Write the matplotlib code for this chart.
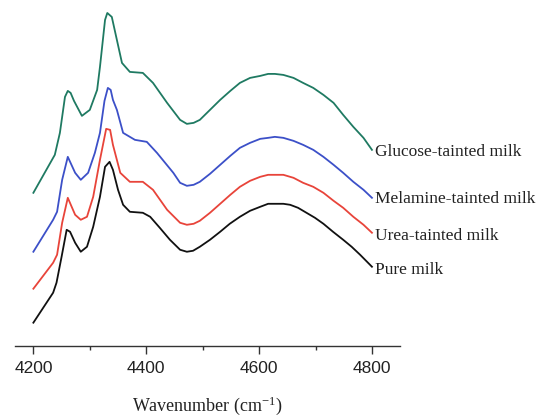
import matplotlib
matplotlib.use("Agg")
from matplotlib import pyplot as plt
from matplotlib.ticker import MultipleLocator

# NIR spectra of milk samples (wavenumber in cm^-1, arbitrary absorbance units, offset per sample)
pure_wn = [4200, 4235, 4241, 4250, 4259, 4265, 4274, 4284, 4295, 4306,
           4318, 4327, 4335, 4341, 4350, 4359, 4371, 4394, 4407, 4424,
           4442, 4460, 4472, 4483, 4495, 4513, 4531, 4548, 4566, 4584,
           4602, 4616, 4631, 4643, 4655, 4669, 4684, 4699, 4714, 4731,
           4749, 4764, 4779, 4800]
pure_abs = [0.23, 0.53, 0.63, 0.89, 1.16, 1.14, 1.03, 0.94, 0.99, 1.19,
            1.49, 1.79, 1.84, 1.76, 1.56, 1.41, 1.34, 1.33, 1.29, 1.18,
            1.06, 0.96, 0.94, 0.95, 0.99, 1.06, 1.14, 1.22, 1.29, 1.35,
            1.39, 1.42, 1.42, 1.42, 1.41, 1.38, 1.33, 1.28, 1.22, 1.14,
            1.06, 0.99, 0.91, 0.79]

urea_wn = [4200, 4235, 4242, 4251, 4261, 4274, 4284, 4295, 4306, 4318,
           4329, 4336, 4341, 4354, 4371, 4394, 4412, 4437, 4460, 4472,
           4484, 4495, 4513, 4531, 4549, 4566, 4584, 4602, 4616, 4628,
           4643, 4661, 4678, 4696, 4714, 4732, 4749, 4767, 4785, 4800]
urea_abs = [0.57, 0.83, 0.91, 1.23, 1.48, 1.31, 1.26, 1.29, 1.49, 1.86,
            2.17, 2.16, 2.01, 1.73, 1.64, 1.64, 1.56, 1.36, 1.23, 1.21,
            1.22, 1.25, 1.33, 1.42, 1.51, 1.59, 1.65, 1.69, 1.71, 1.71,
            1.71, 1.68, 1.63, 1.59, 1.53, 1.45, 1.38, 1.29, 1.21, 1.13]

melamine_wn = [4200, 4235, 4242, 4251, 4261, 4274, 4284, 4297, 4309, 4318,
               4326, 4332, 4337, 4341, 4348, 4359, 4380, 4401, 4419, 4448,
               4460, 4472, 4484, 4495, 4513, 4531, 4549, 4566, 4584, 4602,
               4616, 4628, 4643, 4661, 4678, 4696, 4714, 4732, 4749, 4767,
               4785, 4800]
melamine_abs = [0.94, 1.26, 1.34, 1.66, 1.89, 1.73, 1.66, 1.73, 1.93, 2.13,
                2.45, 2.58, 2.56, 2.46, 2.36, 2.13, 2.06, 2.04, 1.93, 1.73,
                1.63, 1.60, 1.61, 1.64, 1.72, 1.81, 1.90, 1.98, 2.03, 2.07,
                2.08, 2.09, 2.08, 2.05, 2.01, 1.96, 1.89, 1.81, 1.73, 1.64,
                1.56, 1.48]

glucose_wn = [4200, 4238, 4247, 4256, 4261, 4266, 4272, 4286, 4300, 4313,
              4318, 4327, 4331, 4339, 4348, 4357, 4371, 4394, 4412, 4437,
              4460, 4472, 4484, 4495, 4513, 4531, 4549, 4566, 4584, 4602,
              4616, 4628, 4643, 4661, 4678, 4696, 4714, 4732, 4749, 4767,
              4785, 4800]
glucose_abs = [1.53, 1.91, 2.13, 2.49, 2.55, 2.53, 2.45, 2.30, 2.36, 2.56,
               2.79, 3.26, 3.33, 3.29, 3.06, 2.83, 2.74, 2.73, 2.63, 2.43,
               2.26, 2.22, 2.23, 2.26, 2.36, 2.46, 2.55, 2.63, 2.68, 2.70,
               2.72, 2.72, 2.71, 2.68, 2.63, 2.58, 2.51, 2.43, 2.31, 2.19,
               2.08, 1.96]

labels = ["Pure milk", "Urea-tainted milk", "Melamine-tainted milk", "Glucose-tainted milk"]
label_y = [0.76, 1.10, 1.47, 1.94]
colors = ["#111111", "#e8443a", "#3c50c8", "#1f7a62"]

plt.rcParams['mathtext.default'] = 'regular'

fig = plt.figure(figsize=(5.39, 4.19), dpi=100)
ax = fig.add_axes([0.028, 0.175, 0.714, 0.806])

series = [(pure_wn, pure_abs), (urea_wn, urea_abs),
          (melamine_wn, melamine_abs), (glucose_wn, glucose_abs)]
for (wn, ab), c, lab, ly in zip(series, colors, labels, label_y):
    ax.plot(wn, ab, color=c, linewidth=1.3, solid_joinstyle='round')
    ax.text(4805, ly, lab, fontsize=12.5, family='Liberation Serif',
            color='#222222', ha='left', va='center')

ax.set_xlim(4167.6, 4849.6)
ax.set_ylim(0, 3.38)

for side in ('left', 'right', 'top'):
    ax.spines[side].set_visible(False)
ax.spines['bottom'].set_color('#333333')
ax.spines['bottom'].set_linewidth(1.0)

ax.set_yticks([])
ax.xaxis.set_major_locator(MultipleLocator(200))
ax.xaxis.set_minor_locator(MultipleLocator(100))
ax.tick_params(axis='x', which='major', direction='out', length=6, width=1,
               color='#333333', pad=5, labelsize=12.5)
ax.tick_params(axis='x', which='minor', direction='out', length=3, width=1,
               color='#333333')
for lbl in ax.get_xticklabels():
    lbl.set_family('Liberation Sans')
    lbl.set_color('#222222')

ax.set_xlabel('Wavenumber (cm$^{-1}$)', family='Liberation Serif',
              fontsize=13, color='#222222', labelpad=13)

fig.savefig('out.png', dpi=100)
